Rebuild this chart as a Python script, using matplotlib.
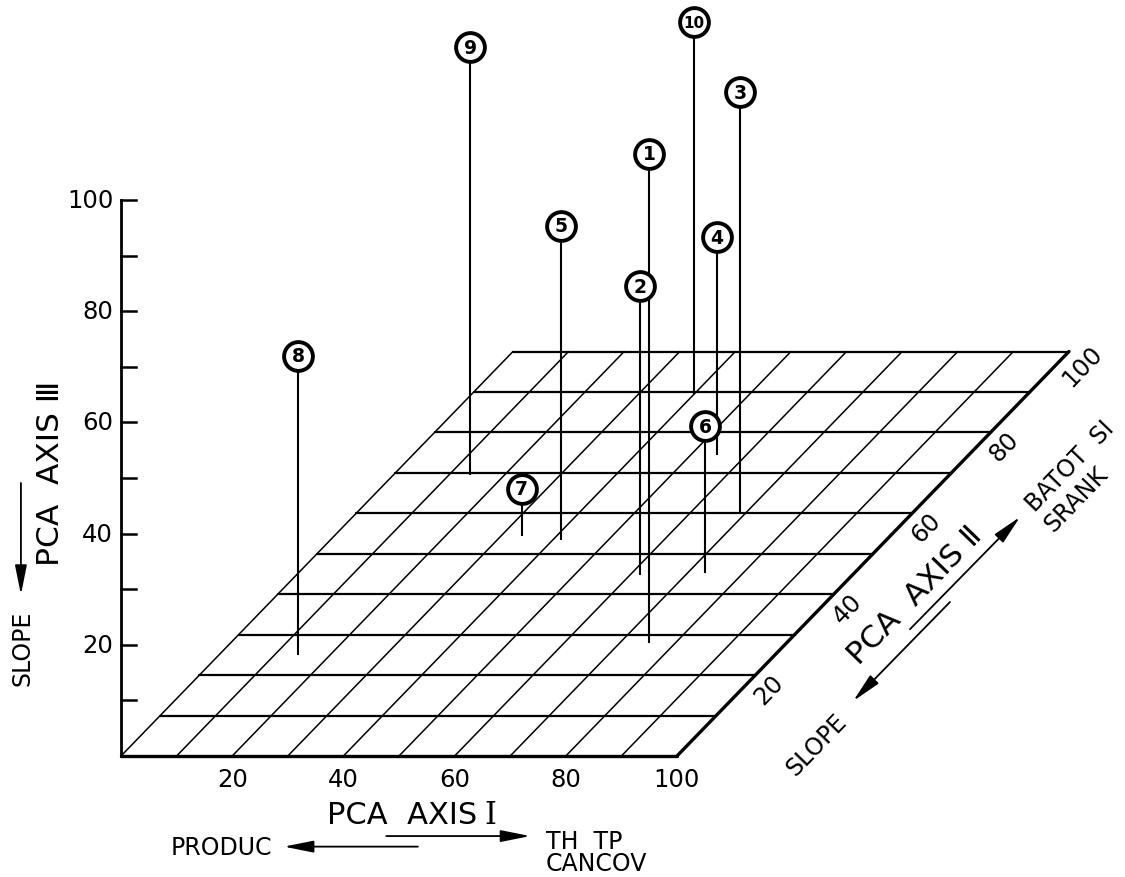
# Ordination of sites on the first three PCA axes, drawn as an oblique block diagram
import numpy as np
import matplotlib
matplotlib.use("Agg")
from matplotlib import pyplot as plt

# site scores on the three axes
site = ["1", "2", "3", "4", "5", "6", "7", "8", "9", "10"]
axis1 = [75.3, 61.8, 69.0, 54.7, 41.5, 73.2, 33.7, 14.2, 13.8, 40.0]
axis2 = [27.9, 44.7, 60.1, 74.4, 53.3, 45.2, 54.4, 25.0, 69.5, 89.5]
axis3 = [88.0, 52.0, 75.7, 39.2, 56.6, 26.4, 8.5, 53.8, 76.9, 66.9]

tick_vals = [20, 40, 60, 80, 100]
grid_vals = np.arange(0, 101, 10)

# axis II is laid back at ~46 degrees
KX, KY = 0.705, 0.7275


def proj(x, y, z):
    x = np.asarray(x, float)
    y = np.asarray(y, float)
    z = np.asarray(z, float)
    return x + KX * y, z + KY * y


S = 5.56  # pixels per unit
fig = plt.figure(figsize=(11.25, 8.78), dpi=100)
ax = fig.add_axes([0, 0, 1, 1])
ax.set_xlim(-121 / S, (1125 - 121) / S)
ax.set_ylim(-(878 - 757) / S, 757 / S)
ax.axis("off")

# floor grid
for g in grid_vals:
    xs, ys = proj([0, 100], [g, g], [0, 0])
    ax.plot(xs, ys, color="k", lw=2.4 if g == 0 else 1.6, solid_capstyle="round")
    xs, ys = proj([g, g], [0, 100], [0, 0])
    ax.plot(xs, ys, color="k", lw=2.4 if g == 100 else 1.1, solid_capstyle="round")

# vertical axis III
ax.plot([0, 0], [0, 100], color="k", lw=2.0)
for t in range(10, 101, 10):
    ax.plot([0, 2.7], [t, t], color="k", lw=1.8)
for t in tick_vals:
    ax.text(-1.4, t, str(t), ha="right", va="center", fontsize=17.5)

# axis I labels
for t in tick_vals:
    ax.text(t, -4.1, str(t), ha="center", va="center", fontsize=17.5)

# axis II labels along the right edge
for t in tick_vals:
    X, Y = proj(100, t, 0)
    ax.text(X + 2.5, Y - 2.5, str(t), rotation=46, rotation_mode="anchor",
            ha="center", va="center", fontsize=17.5)

# stems and site markers
bx, by = proj(axis1, axis2, 0)
tx, ty = proj(axis1, axis2, axis3)
ax.vlines(bx, by, ty, colors="k", lw=1.5, zorder=3)
ax.scatter(tx, ty, s=430, facecolor="white", edgecolor="k", linewidths=2.8, zorder=5)
for name, x, y in zip(site, tx, ty):
    ax.text(x, y, name, ha="center", va="center", fontsize=13.5 if len(name) == 1 else 11,
            fontweight="bold", zorder=6)

arrow = dict(arrowstyle="-|>,head_length=0.9,head_width=0.18", color="k", lw=1.3,
             shrinkA=0, shrinkB=0, mutation_scale=20)

# axis I title and gradient
ax.text(64.0, -10.6, "PCA  AXIS", ha="right", va="center", fontsize=22)
ax.text(65.4, -10.6, "I", ha="left", va="center", fontsize=22, family="DejaVu Serif")
ax.annotate("", xy=(73.6, -14.4), xytext=(47.7, -14.4), arrowprops=arrow)
ax.annotate("", xy=(29.3, -16.3), xytext=(53.4, -16.3), arrowprops=arrow)
ax.text(27.2, -16.3, "PRODUC", ha="right", va="center", fontsize=17)
ax.text(76.4, -15.3, "TH  TP", ha="left", va="center", fontsize=17)
ax.text(76.4, -19.3, "CANCOV", ha="left", va="center", fontsize=17)

# axis III title and gradient
ax.text(-12.6, 51.1, "PCA  AXIS Ⅲ", ha="center", va="center", rotation=90, fontsize=22.5)
ax.annotate("", xy=(-18.0, 29.0), xytext=(-18.0, 49.1), arrowprops=arrow)
ax.text(-17.8, 19.6, "SLOPE", ha="center", va="center", rotation=90, fontsize=17)

# axis II title and gradient
X, Y = proj(100, 50, 0)
ax.text(X + 7.6, Y - 7.4, "PCA  AXIS Ⅱ", rotation=46, rotation_mode="anchor",
        ha="center", va="center", fontsize=22.5)
ax.annotate("", xy=(161.7, 43.0), xytext=(141.9, 22.8), arrowprops=arrow)
ax.annotate("", xy=(131.7, 9.9), xytext=(149.1, 27.7), arrowprops=arrow)
ax.text(125.2, 2.2, "SLOPE", rotation=46, rotation_mode="anchor",
        ha="center", va="center", fontsize=17)
ax.text(163.5, 44.8, "BATOT  SI", rotation=46, rotation_mode="anchor",
        ha="left", va="center", fontsize=17)
ax.text(166.9, 41.2, "SRANK", rotation=46, rotation_mode="anchor",
        ha="left", va="center", fontsize=17)

fig.savefig("out.png", dpi=100, facecolor="white")
